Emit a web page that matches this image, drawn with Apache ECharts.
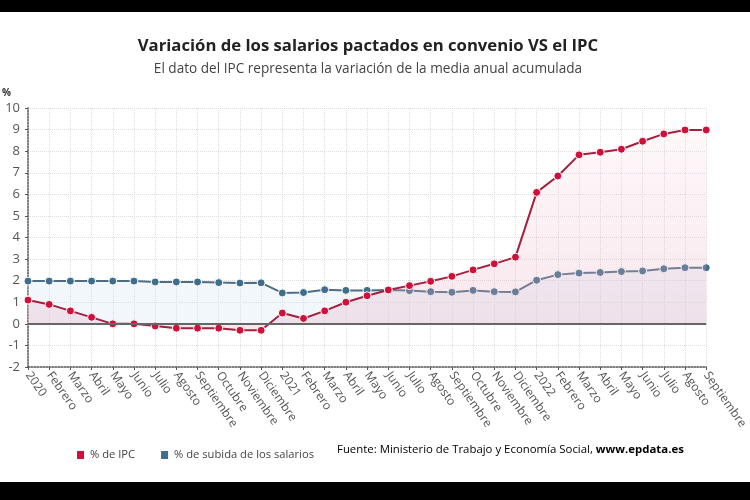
<!DOCTYPE html>
<html><head><meta charset="utf-8">
<script src="https://cdn.jsdelivr.net/npm/echarts@6/dist/echarts.min.js"></script>
<style>
html,body{margin:0;padding:0;background:#000;width:750px;height:500px;overflow:hidden}
#c{position:absolute;left:0;top:12px;width:750px;height:470px;background:#fff}
</style></head><body>
<div id="c"></div>
<script>
const categories = ['2020','Febrero','Marzo','Abril','Mayo','Junio','Julio','Agosto','Septiembre','Octubre','Noviembre','Diciembre',
  '2021','Febrero','Marzo','Abril','Mayo','Junio','Julio','Agosto','Septiembre','Octubre','Noviembre','Diciembre',
  '2022','Febrero','Marzo','Abril','Mayo','Junio','Julio','Agosto','Septiembre'];
const ipc = [1.1,0.9,0.6,0.3,0.0,0.0,-0.1,-0.2,-0.2,-0.2,-0.3,-0.3,
  0.5,0.25,0.6,1.0,1.3,1.57,1.77,1.97,2.2,2.5,2.78,3.09,
  6.09,6.85,7.83,7.95,8.09,8.46,8.8,8.98,8.98];
const salarios = [1.98,1.98,1.98,1.98,1.98,1.98,1.94,1.94,1.94,1.91,1.89,1.9,
  1.43,1.45,1.58,1.55,1.55,1.57,1.54,1.49,1.46,1.55,1.49,1.48,
  2.02,2.28,2.35,2.38,2.42,2.45,2.55,2.6,2.6];
const yTicks = [-2,-1,0,1,2,3,4,5,6,7,8,9,10];

const font = '"Open Sans", "Noto Sans", sans-serif';
const chart = echarts.init(document.getElementById('c'));
chart.setOption({
  animation:false,
  textStyle:{fontFamily:font},
  title:{
    text:'Variación de los salarios pactados en convenio VS el IPC',
    subtext:'El dato del IPC representa la variación de la media anual acumulada',
    left:363, textAlign:'center', top:21, itemGap:7,
    textStyle:{fontFamily:font,fontSize:16.7,fontWeight:'bold',color:'#222'},
    subtextStyle:{fontFamily:font,fontSize:13.6,color:'#444'}
  },
  legend:{
    left:70, top:432, icon:'rect', itemWidth:9, itemHeight:10, itemGap:24,
    textStyle:{fontFamily:font,fontSize:11.2,color:'#444'},
    data:['% de IPC','% de subida de los salarios']
  },
  graphic:[
    {type:'text', left:2, top:76, style:{text:'%', font:'bold 10px '+font, fill:'#333'}},
    {type:'text', left:337, top:432, style:{
      text:'{a|Fuente: Ministerio de Trabajo y Economía Social, }{b|www.epdata.es}',
      rich:{a:{fontFamily:font,fontSize:11.4,color:'#444'},b:{fontFamily:font,fontSize:11.4,fontWeight:'bold',color:'#333'}}
    }}
  ],
  grid:{left:28, right:37, top:96, bottom:115, containLabel:false},
  xAxis:{
    type:'category', data:categories, boundaryGap:false,
    axisLine:{onZero:false, lineStyle:{color:'#555', type:'dotted', width:1.5}},
    axisTick:{show:true, length:3, lineStyle:{color:'#555'}},
    axisLabel:{rotate:-55, interval:0, color:'#555', fontSize:12, margin:6, fontFamily:font},
    splitLine:{show:true, lineStyle:{color:'#ddd', type:'dotted'}}
  },
  yAxis:{
    type:'value', min:yTicks[0], max:yTicks[yTicks.length-1], interval:1,
    axisLine:{show:true, lineStyle:{color:'#555', type:'dotted', width:1.5}},
    axisTick:{show:true, length:3, lineStyle:{color:'#555'}},
    axisLabel:{color:'#555', fontSize:13, margin:8, fontFamily:font},
    splitLine:{show:true, lineStyle:{color:'#ddd', type:'dotted'}}
  },
  series:[
    {
      name:'% de subida de los salarios', type:'line', data:salarios, z:3,
      color:'#3f6d8c',
      symbol:'circle', symbolSize:8,
      lineStyle:{color:'#4f6c82', width:2},
      itemStyle:{color:'#3f6d8c', borderColor:'#fff', borderWidth:1},
      areaStyle:{origin:0, color:'rgba(214,230,244,0.45)'},
      markLine:{silent:true, symbol:'none', label:{show:false},
        lineStyle:{color:'#666', type:'solid', width:2}, data:[{yAxis:0}]}
    },
    {
      name:'% de IPC', type:'line', data:ipc, z:4,
      color:'#d0103a',
      symbol:'circle', symbolSize:8,
      lineStyle:{color:'#a3203f', width:2},
      itemStyle:{color:'#d0103a', borderColor:'#fff', borderWidth:1},
      areaStyle:{origin:0, color:new echarts.graphic.LinearGradient(0,0,0,1,[
        {offset:0,color:'rgba(250,220,225,0.3)'},{offset:1,color:'rgba(225,160,185,0.38)'}])}
    }
  ]
});
</script>
</body></html>
